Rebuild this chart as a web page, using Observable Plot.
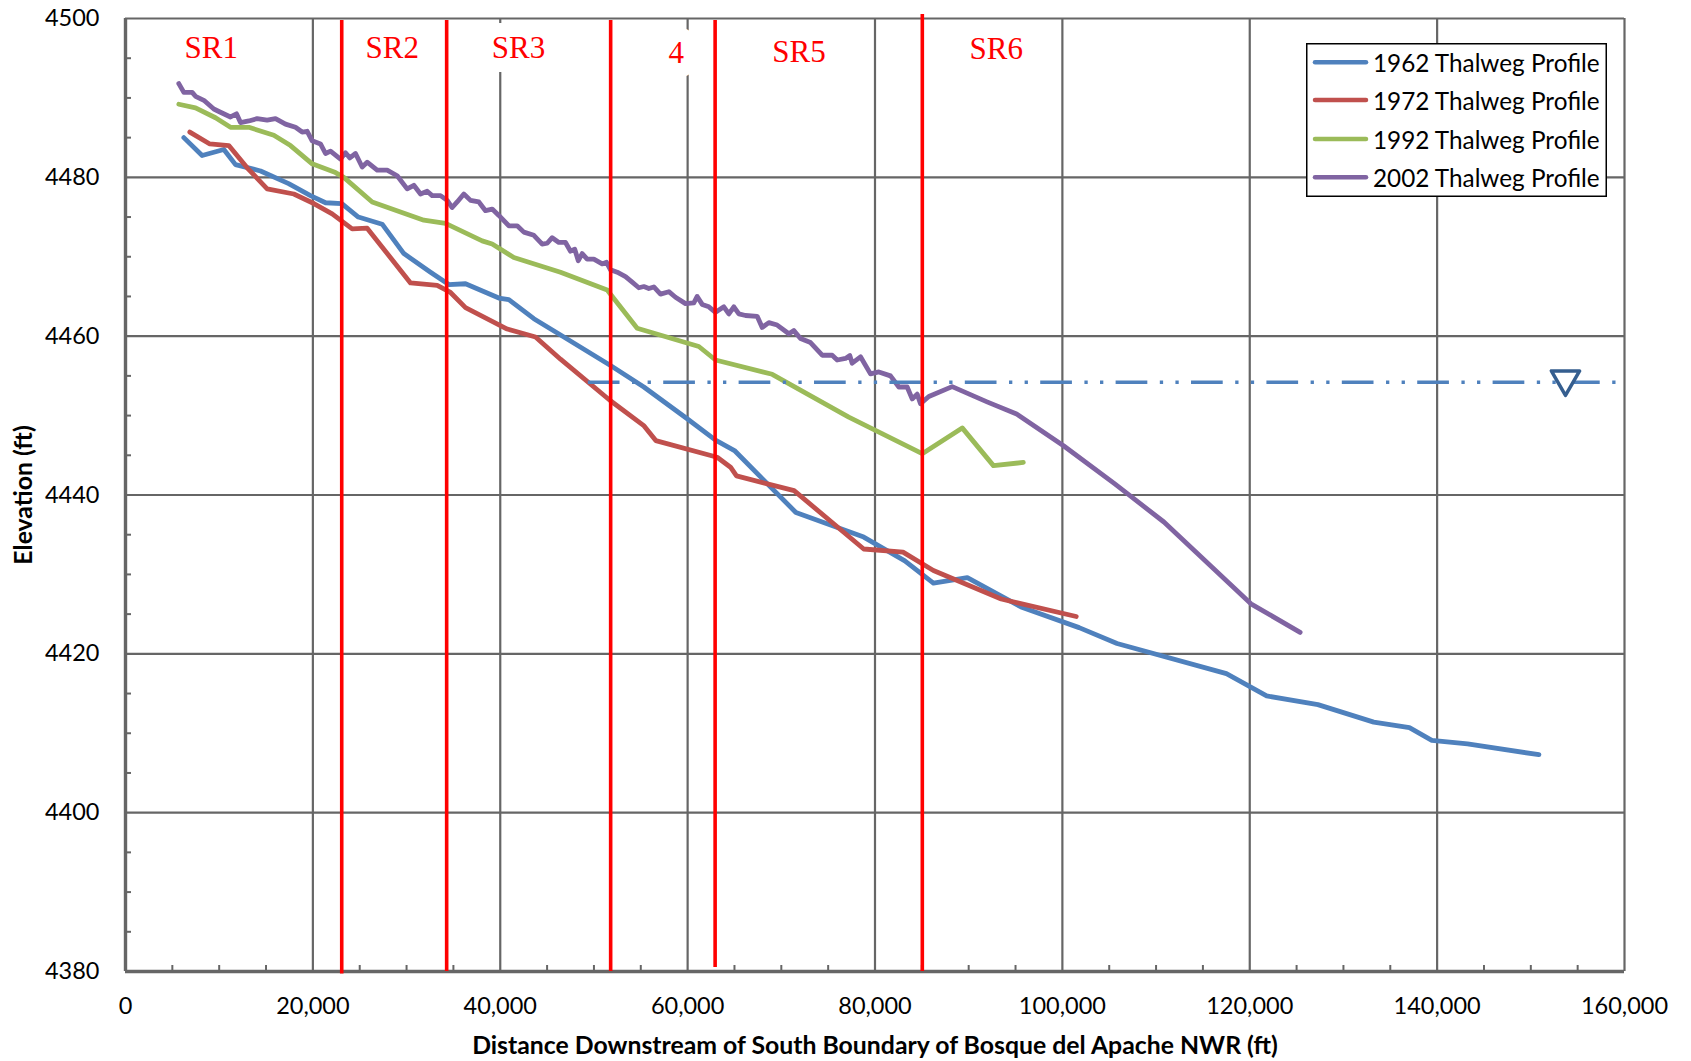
<!DOCTYPE html>
<html><head><meta charset="utf-8">
<script src="https://cdn.jsdelivr.net/npm/d3@7"></script>
<script src="https://cdn.jsdelivr.net/npm/@observablehq/plot@0.6"></script>
<style>
html,body{margin:0;padding:0;background:#fff;}
#wrap{position:relative;width:1691px;height:1061px;overflow:hidden;}
#wrap > svg{display:block;}
#legend{position:absolute;left:1306px;top:43px;}
</style></head><body><div id="wrap"></div>
<script>
// ---------- data ----------
const seriesNames = ["1962 Thalweg Profile", "1972 Thalweg Profile", "1992 Thalweg Profile", "2002 Thalweg Profile"];
const seriesColors = ["#4F81BD", "#C0504D", "#9BBB59", "#8064A2"];

const x1962 = [6225, 8180, 10497, 11743, 14415, 17415, 19745, 21356, 23093, 24852, 27396, 29710, 32556, 34514, 36292, 39850, 40917, 43586, 46790, 51769, 55327, 59953, 62977, 65000, 71558, 78797, 83183, 86235, 89854, 95587, 101787, 105833, 117510, 121801, 127275, 133233, 137044, 139435, 143246, 150866];
const y1962 = [4485.0, 4482.75, 4483.5, 4481.6, 4480.8, 4479.2, 4477.7, 4476.8, 4476.7, 4475.0, 4474.1, 4470.4, 4468.05, 4466.5, 4466.6, 4464.8, 4464.6, 4462.2, 4459.9, 4456.3, 4453.6, 4449.6, 4446.9, 4445.6, 4437.8, 4434.7, 4431.7, 4428.9, 4429.6, 4425.9, 4423.3, 4421.3, 4417.5, 4414.7, 4413.6, 4411.4, 4410.7, 4409.1, 4408.65, 4407.3];

const x1972 = [6866, 9000, 11028, 12987, 15121, 17967, 20101, 22060, 24194, 25796, 30421, 33268, 34690, 36292, 40742, 43763, 46432, 51729, 55354, 56600, 63155, 64578, 65218, 71366, 78797, 82990, 86235, 93472, 101479];
const y1972 = [4485.7, 4484.2, 4484.0, 4481.2, 4478.55, 4477.9, 4476.7, 4475.4, 4473.5, 4473.6, 4466.7, 4466.4, 4465.5, 4463.6, 4460.9, 4459.9, 4457.1, 4451.9, 4448.7, 4446.85, 4444.75, 4443.5, 4442.4, 4440.55, 4433.2, 4432.8, 4430.5, 4426.9, 4424.7];

const x1992 = [5690, 7472, 9607, 11208, 13164, 15832, 17612, 19925, 22415, 23306, 26330, 31844, 34157, 38071, 39138, 41451, 46432, 51414, 54616, 61197, 62977, 69027, 77200, 85040, 89309, 92640, 95831];
const y1992 = [4489.2, 4488.75, 4487.5, 4486.3, 4486.3, 4485.3, 4484.0, 4481.7, 4480.6, 4480.0, 4476.9, 4474.6, 4474.2, 4472.0, 4471.6, 4469.9, 4468.05, 4465.8, 4461.0, 4458.7, 4457.0, 4455.2, 4449.8, 4445.2, 4448.45, 4443.7, 4444.1];

const x2002 = [5690, 6225, 7117, 7473, 8363, 9426, 10135, 11208, 11850, 12274, 13164, 14053, 15120, 16010, 17078, 18145, 18856, 19395, 19925, 20814, 21348, 21882, 22946, 23480, 23945, 24550, 25262, 25796, 26864, 27930, 28998, 30065, 30777, 31489, 32200, 32734, 33624, 34335, 34869, 35402, 36114, 36826, 37715, 38427, 39140, 39850, 40917, 41807, 42519, 43586, 44476, 45010, 45543, 46255, 46966, 47500, 47950, 48330, 48745, 49278, 49990, 50879, 51342, 51769, 52484, 53370, 54082, 54793, 55327, 55861, 56394, 57106, 57995, 58707, 59774, 60664, 61020, 61554, 62265, 62977, 63866, 64400, 64934, 65468, 66179, 67424, 67958, 68669, 69559, 70804, 71338, 72049, 73117, 74362, 75429, 75965, 76852, 77314, 77564, 78453, 79520, 80410, 81655, 82544, 83434, 83968, 84501, 84857, 85746, 88236, 92020, 95115, 100122, 105598, 110838, 120126, 125377];
const y2002 = [4491.8, 4490.7, 4490.7, 4490.2, 4489.7, 4488.6, 4488.2, 4487.6, 4488.0, 4486.9, 4487.1, 4487.4, 4487.2, 4487.4, 4486.7, 4486.3, 4485.7, 4485.8, 4484.6, 4484.2, 4483.0, 4483.3, 4482.3, 4483.1, 4482.45, 4483.0, 4481.3, 4481.9, 4480.9, 4480.9, 4480.2, 4478.55, 4479.0, 4477.9, 4478.25, 4477.7, 4477.7, 4477.1, 4476.2, 4476.9, 4477.9, 4477.1, 4476.9, 4475.8, 4476.0, 4475.2, 4473.9, 4473.9, 4473.1, 4472.7, 4471.6, 4471.7, 4472.4, 4471.8, 4471.8, 4470.7, 4470.95, 4469.5, 4470.4, 4469.7, 4469.7, 4469.1, 4469.3, 4468.35, 4468.05, 4467.5, 4466.8, 4466.1, 4466.25, 4466.0, 4466.2, 4465.3, 4465.6, 4464.9, 4464.1, 4464.2, 4465.0, 4464.0, 4463.7, 4463.0, 4463.7, 4462.8, 4463.7, 4462.8, 4462.6, 4462.5, 4461.1, 4461.7, 4461.4, 4460.3, 4460.7, 4459.7, 4459.2, 4457.6, 4457.6, 4457.0, 4457.2, 4457.55, 4456.6, 4457.4, 4455.25, 4455.5, 4455.0, 4453.6, 4453.6, 4452.1, 4452.7, 4451.5, 4452.4, 4453.65, 4451.7, 4450.2, 4446.2, 4441.4, 4436.6, 4426.3, 4422.7];

// subreach boundaries (ft) and their drawn elevation extents
const boundaryX = [23080, 34280, 51785, 62935, 85050];
const boundaryTop = [4499.75, 4499.75, 4499.75, 4499.75, 4500.5];
const boundaryBottom = [4379.7, 4380, 4380, 4380.5, 4380];

// subreach labels
const sectionLabels = ["SR1", "SR2", "SR3", "4", "SR5", "SR6"];
const sectionLabelX = [9150, 28480, 41940, 58780, 71880, 92940];
const sectionLabelY = [4496.25, 4496.25, 4496.25, 4495.6, 4495.8, 4496.2];

// water surface line and marker
const waterLevel = 4454.2;
const waterStart = 49400;
const waterEnd = 160000;
const markerX = 153700;
const markerY = 4454.6;

// axes
const xTicks = [0, 20000, 40000, 60000, 80000, 100000, 120000, 140000, 160000];
const yTicks = [4380, 4400, 4420, 4440, 4460, 4480, 4500];
const xMinor = d3.range(5000, 160000, 5000).filter(v => v % 20000 !== 0);
const yMinor = d3.range(4385, 4500, 5).filter(v => v % 20 !== 0);
const xTitle = "Distance Downstream of South Boundary of Bosque del Apache NWR (ft)";
const yTitle = "Elevation (ft)";

// ---------- tables ----------
const xs = [x1962, x1972, x1992, x2002];
const ys = [y1962, y1972, y1992, y2002];
const rows = seriesNames.flatMap((name, k) => xs[k].map((x, i) => ({series: name, x, y: ys[k][i]})));
const bounds = boundaryX.map((x, i) => ({x, y1: boundaryBottom[i], y2: boundaryTop[i]}));
const labels = sectionLabels.map((t, i) => ({text: t, x: sectionLabelX[i], y: sectionLabelY[i]}));

const grid = "#666666";

const chart = Plot.plot({
  width: 1691,
  height: 1061,
  marginLeft: 125,
  marginRight: 67,
  marginTop: 18,
  marginBottom: 90,
  style: {fontFamily: "Lato, 'Open Sans', sans-serif", fontSize: "23.5px", color: "#000", background: "#fff"},
  x: {domain: [0, 160000]},
  y: {domain: [4380, 4500]},
  color: {domain: seriesNames, range: seriesColors},
  marks: [
    Plot.gridX(xTicks, {stroke: grid, strokeOpacity: 1, strokeWidth: 2.2}),
    Plot.gridY(yTicks, {stroke: grid, strokeOpacity: 1, strokeWidth: 2.2}),
    Plot.ruleX([0], {stroke: grid, strokeWidth: 3.4}),
    Plot.ruleY([4380], {stroke: grid, strokeWidth: 3.4}),
    Plot.axisX({ticks: xMinor, tickSize: -6, tickFormat: () => "", stroke: grid, strokeWidth: 2, label: null}),
    Plot.axisY({ticks: yMinor, tickSize: -6, tickFormat: () => "", stroke: grid, strokeWidth: 2, label: null}),
    Plot.axisX({ticks: xTicks, tickSize: 0, tickPadding: 26, tickFormat: d3.format(","), label: null, fill: "#000"}),
    Plot.axisY({ticks: yTicks, tickSize: 0, tickPadding: 26, tickFormat: d => String(d), label: null, fill: "#000"}),
    Plot.line(rows, {x: "x", y: "y", z: "series", stroke: "series", strokeWidth: 4.8, strokeLinejoin: "round", strokeLinecap: "round"}),
    Plot.ruleY([{y: waterLevel, x1: waterStart, x2: waterEnd}], {y: "y", x1: "x1", x2: "x2", stroke: "#4F81BD", strokeWidth: 3.5, strokeDasharray: "31.7 12.5 3.3 12.3 3.3 12.3"}),
    Plot.ruleX(bounds, {x: "x", y1: "y1", y2: "y2", stroke: "#FF0000", strokeWidth: 3.6}),
    Plot.text(labels, {x: "x", y: "y", text: "text", fill: "#FF0000", fontFamily: "'Liberation Serif', 'Times New Roman', serif", fontSize: 31, stroke: "#fff", strokeWidth: 28, strokeLinejoin: "round"}),
    Plot.dot([{x: markerX, y: markerY}], {x: "x", y: "y", symbol: "triangle", r: 10.5, rotate: 180, fill: "#fff", stroke: "#355E8F", strokeWidth: 3.5, strokeLinejoin: "round"}),
    Plot.text([xTitle], {text: d => d, frameAnchor: "bottom", lineAnchor: "middle", textAnchor: "middle", dy: 75, fontWeight: "bold", fontSize: 24.8, fill: "#000"}),
    Plot.text([yTitle], {text: d => d, frameAnchor: "left", lineAnchor: "middle", textAnchor: "middle", dx: -101, rotate: -90, fontWeight: "bold", fontSize: 24.8, fill: "#000"})
  ]
});
const wrap = document.getElementById("wrap");
wrap.appendChild(chart);

// ---------- legend (inside the plot area, top right) ----------
const rowY = [19.3, 57, 96, 134.3];
const lg = d3.select(wrap).append("svg").attr("id", "legend").attr("width", 301).attr("height", 155);
lg.append("rect").attr("x", 0.75).attr("y", 0.75).attr("width", 299.5).attr("height", 152.5)
  .attr("fill", "#fff").attr("stroke", "#000").attr("stroke-width", 1.5);
seriesNames.forEach((name, i) => {
  lg.append("line").attr("x1", 9).attr("x2", 60).attr("y1", rowY[i]).attr("y2", rowY[i])
    .attr("stroke", seriesColors[i]).attr("stroke-width", 4.5).attr("stroke-linecap", "round");
  lg.append("text").attr("x", 67).attr("y", rowY[i]).attr("dominant-baseline", "central")
    .attr("font-family", "Lato, 'Open Sans', sans-serif").attr("font-size", 24.3).attr("fill", "#000").text(name);
});
</script></body></html>
